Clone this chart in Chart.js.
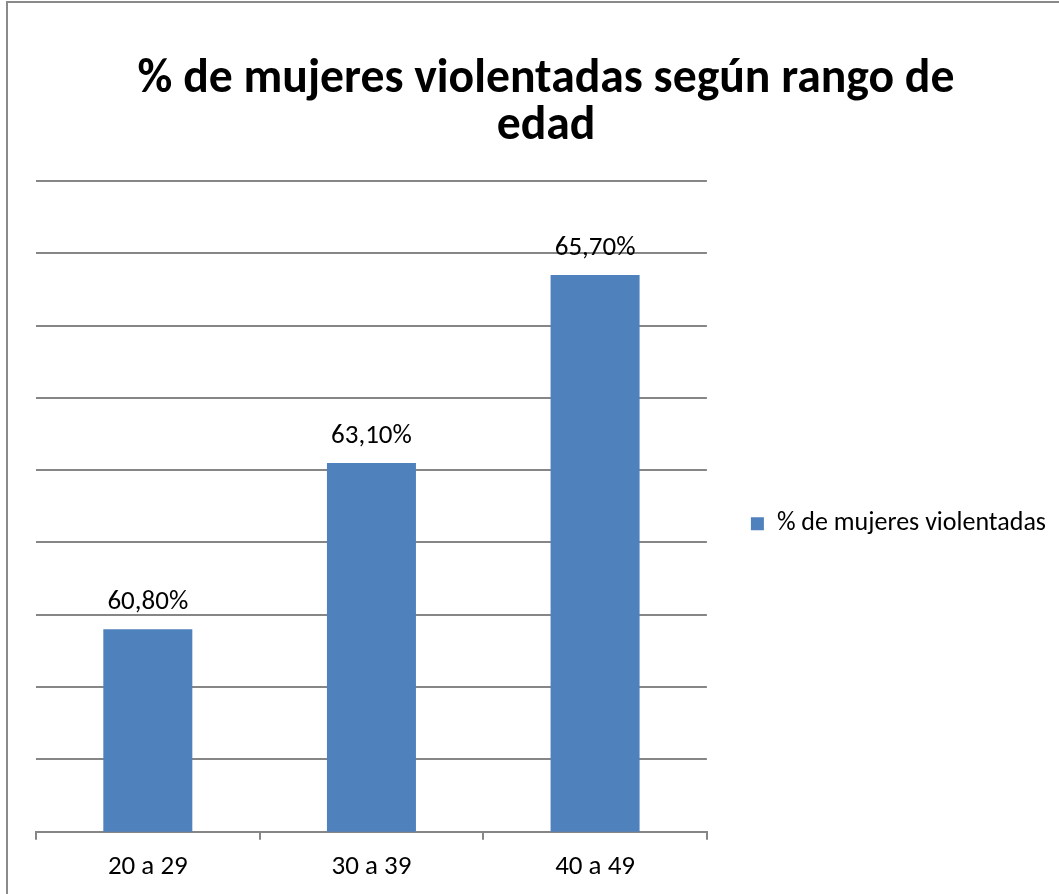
<!DOCTYPE html>
<html>
<head>
<meta charset="utf-8">
<script src="https://cdn.jsdelivr.net/npm/chart.js@4/dist/chart.umd.min.js"></script>
<style>
  html, body { margin: 0; padding: 0; background: #fff; }
  #wrap { position: relative; width: 1059px; height: 894px; overflow: hidden; }
  #frame {
    position: absolute; left: 6px; top: 1px; width: 1100px; height: 950px;
    border-left: 2px solid #8a8a8a; border-top: 2px solid #8a8a8a;
    pointer-events: none;
  }
  canvas { position: absolute; left: 0; top: 0; }
</style>
</head>
<body>
<div id="wrap">
  <canvas id="chart" width="1059" height="894"></canvas>
  <div id="frame"></div>
</div>
<script>
// ===================== Datos =====================
const categorias = ["20 a 29", "30 a 39", "40 a 49"];
const porcentajes = [60.8, 63.1, 65.7];
const serieNombre = "% de mujeres violentadas";
const tituloLineas = ["% de mujeres violentadas según rango de", "edad"];
const ejeMin = 58;
const ejeMax = 67;
const ejePaso = 1;

const FUENTE = "Carlito, Calibri, Lato, 'Open Sans', sans-serif";
const GRIS = "#868686";

function fmtPct(n) {
    return n.toFixed(2).replace(".", ",") + "%";
}

// Etiquetas de datos encima de cada barra
const etiquetasPlugin = {
    id: "etiquetas",
    afterDatasetsDraw(chart) {
        const ctx = chart.ctx;
        const meta = chart.getDatasetMeta(0);
        ctx.save();
        ctx.fillStyle = "#000";
        ctx.font = "27px " + FUENTE;
        ctx.textAlign = "center";
        ctx.textBaseline = "alphabetic";
        meta.data.forEach((bar, i) => {
            ctx.fillText(fmtPct(porcentajes[i]), bar.x, bar.y - 20);
        });
        ctx.restore();
    }
};

const ctx = document.getElementById("chart").getContext("2d");
new Chart(ctx, {
    type: "bar",
    data: {
        labels: categorias,
        datasets: [{
            label: serieNombre,
            data: porcentajes,
            backgroundColor: "#4F81BD",
            borderWidth: 0,
            categoryPercentage: 0.8,
            barPercentage: 0.4975
        }]
    },
    options: {
        responsive: false,
        animation: false,
        devicePixelRatio: 1,
        layout: { padding: { left: 36, right: 3, top: 0, bottom: 0 } },
        plugins: {
            title: {
                display: true,
                text: tituloLineas,
                color: "#000",
                font: { family: FUENTE, size: 47.7, weight: "bold", lineHeight: 0.985 },
                padding: { top: 56.5, bottom: 30.5 }
            },
            legend: {
                position: "right",
                fullSize: false,
                maxWidth: 420,
                // título vacío: solo desplaza el elemento hacia abajo
                title: { display: true, text: "", padding: 0, font: { size: 29, lineHeight: 1.2 } },
                labels: {
                    color: "#000",
                    font: { family: FUENTE, size: 26 },
                    boxWidth: 13,
                    boxHeight: 13,
                    padding: 44
                }
            },
            tooltip: { enabled: false }
        },
        scales: {
            x: {
                grid: { display: true, drawOnChartArea: false, drawTicks: true, tickLength: 8, color: GRIS, lineWidth: 2, offset: true },
                border: { display: true, color: GRIS, width: 2 },
                ticks: { color: "#000", font: { family: FUENTE, size: 27, lineHeight: 0.9 }, padding: 15 }
            },
            y: {
                min: ejeMin,
                max: ejeMax,
                ticks: { display: false, stepSize: ejePaso },
                grid: { color: GRIS, lineWidth: 2, drawTicks: false },
                border: { display: false }
            }
        }
    },
    plugins: [etiquetasPlugin]
});
</script>
</body>
</html>
